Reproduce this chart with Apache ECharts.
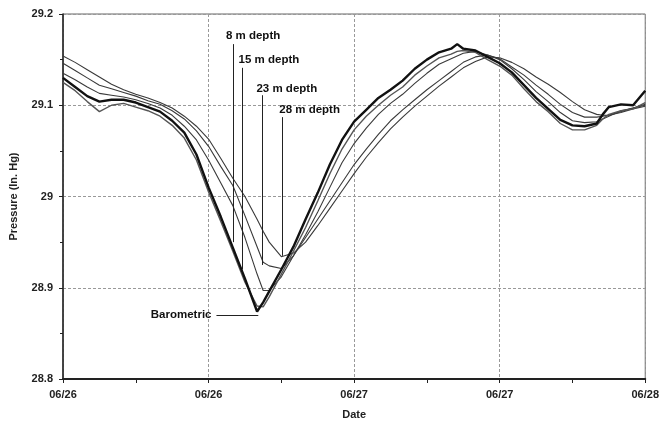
<!DOCTYPE html>
<html>
<head>
<meta charset="utf-8">
<script src="https://cdn.jsdelivr.net/npm/echarts@6/dist/echarts.min.js"></script>
<style>
html,body{margin:0;padding:0;background:#fff;}
#c{width:662px;height:425px;}
</style>
</head>
<body>
<div id="c"></div>
<script>
// hours since 06/26 00:00
var hours = [0,1,2,3,4,5,6,7,8,9,10,11,12,13,14,15,16,16.5,17,18,19,20,21,22,23,24,25,26,27,28,29,30,31,32,32.5,33,34,35,36,37,38,39,40,41,42,43,44,44.5,45,46,47,48];

var barometric = [29.130,29.120,29.110,29.104,29.106,29.106,29.103,29.098,29.093,29.083,29.070,29.046,29.010,28.978,28.944,28.910,28.874,28.884,28.896,28.920,28.945,28.975,29.004,29.035,29.062,29.082,29.095,29.108,29.117,29.127,29.140,29.150,29.158,29.162,29.167,29.162,29.160,29.153,29.146,29.136,29.122,29.108,29.096,29.084,29.078,29.077,29.080,29.090,29.098,29.101,29.100,29.116];

var depth8 = [29.125,29.116,29.104,29.093,29.100,29.102,29.098,29.094,29.088,29.078,29.064,29.040,29.005,28.973,28.940,28.906,28.880,28.879,28.890,28.915,28.940,28.966,28.995,29.025,29.052,29.073,29.088,29.100,29.111,29.120,29.133,29.143,29.152,29.156,29.159,29.160,29.158,29.150,29.143,29.133,29.118,29.104,29.093,29.080,29.073,29.073,29.078,29.085,29.090,29.094,29.096,29.103];

var depth15 = [29.135,29.128,29.120,29.113,29.111,29.109,29.106,29.102,29.097,29.089,29.077,29.062,29.040,29.015,28.990,28.955,28.915,28.897,28.897,28.912,28.935,28.958,28.983,29.010,29.037,29.058,29.075,29.090,29.102,29.112,29.124,29.135,29.145,29.151,29.154,29.157,29.159,29.155,29.150,29.140,29.128,29.115,29.104,29.092,29.083,29.081,29.082,29.085,29.088,29.094,29.097,29.101];

var depth23 = [29.146,29.138,29.130,29.122,29.118,29.114,29.110,29.105,29.101,29.094,29.085,29.072,29.055,29.033,29.012,28.979,28.945,28.928,28.924,28.921,28.935,28.955,28.975,28.995,29.015,29.035,29.052,29.068,29.083,29.095,29.106,29.117,29.127,29.137,29.142,29.147,29.153,29.155,29.151,29.142,29.133,29.122,29.112,29.101,29.092,29.087,29.087,29.088,29.089,29.093,29.097,29.100];

var depth28 = [29.154,29.147,29.139,29.131,29.123,29.117,29.112,29.108,29.103,29.097,29.088,29.077,29.063,29.042,29.020,29.000,28.975,28.962,28.950,28.934,28.938,28.950,28.968,28.987,29.006,29.025,29.043,29.059,29.074,29.087,29.099,29.110,29.121,29.131,29.136,29.141,29.148,29.153,29.152,29.147,29.140,29.131,29.123,29.114,29.104,29.095,29.090,29.089,29.089,29.092,29.096,29.099];

var xTickLabels = ['06/26','06/26','06/27','06/27','06/28'];
var yTicks = [28.8, 28.9, 29.0, 29.1, 29.2];
var seriesNames = ['Barometric','8 m depth','15 m depth','23 m depth','28 m depth'];

function pairs(vals){ return hours.map(function(h,i){ return [h, vals[i]]; }); }

var FONT = '"Liberation Sans", Arial, sans-serif';
var thin = {color:'#3a3a3a', width:1.1};

function vLeader(h, v1, v2){ return [{coord:[h, v1]}, {coord:[h, v2]}]; }

var chart = echarts.init(document.getElementById('c'), null, {renderer:'canvas'});
chart.setOption({
  animation:false,
  backgroundColor:'#fff',
  grid:{left:60, right:14, top:14, bottom:41, show:true, borderColor:'#666', borderWidth:1},
  xAxis:{
    type:'value', min:0, max:48, interval:12,
    name:'Date', nameLocation:'middle', nameGap:30,
    nameTextStyle:{fontFamily:FONT, fontWeight:'bold', fontSize:11, color:'#222'},
    axisLine:{show:true, lineStyle:{color:'#222', width:2}},
    axisTick:{show:true, length:4, lineStyle:{color:'#222', width:1}},
    minorTick:{show:true, splitNumber:2, length:4, lineStyle:{color:'#222', width:1}},
    axisLabel:{fontFamily:FONT, fontWeight:'bold', fontSize:11, color:'#222', margin:10,
      formatter:function(v){ return xTickLabels[Math.round(v/12)]; }},
    splitLine:{show:true, lineStyle:{color:'#999', type:[3,2], width:1}}
  },
  yAxis:{
    type:'value', min:28.8, max:29.2, interval:0.1,
    name:'Pressure (In. Hg)', nameLocation:'middle', nameGap:44, nameRotate:90,
    nameTextStyle:{fontFamily:FONT, fontWeight:'bold', fontSize:11, color:'#222'},
    axisLine:{show:true, lineStyle:{color:'#222', width:1.5}},
    axisTick:{show:true, length:4, lineStyle:{color:'#222'}},
    minorTick:{show:true, splitNumber:2, length:3, lineStyle:{color:'#222'}},
    axisLabel:{fontFamily:FONT, fontWeight:'bold', fontSize:11, color:'#222', margin:10,
      formatter:function(v){ var i = yTicks.indexOf(Math.round(v*10)/10); return i<0 ? '' : String(yTicks[i]); }},
    splitLine:{show:true, lineStyle:{color:'#999', type:[3,2], width:1}}
  },
  series:[
    {name:seriesNames[4], type:'line', data:pairs(depth28), showSymbol:false, lineStyle:thin, z:2},
    {name:seriesNames[3], type:'line', data:pairs(depth23), showSymbol:false, lineStyle:thin, z:2},
    {name:seriesNames[2], type:'line', data:pairs(depth15), showSymbol:false, lineStyle:thin, z:2},
    {name:seriesNames[1], type:'line', data:pairs(depth8), showSymbol:false, lineStyle:{color:'#555', width:1.4}, z:2},
    {name:seriesNames[0], type:'line', data:pairs(barometric), showSymbol:false,
      lineStyle:{color:'#111', width:2.4}, z:3,
      markLine:{
        silent:true, symbol:['none','none'], label:{show:false},
        lineStyle:{color:'#222', width:1, type:'solid'},
        data:[
          vLeader(14.05, 29.167, 28.950),
          vLeader(14.8, 29.141, 28.920),
          vLeader(16.45, 29.111, 28.925),
          vLeader(18.1, 29.087, 28.935),
          [{coord:[12.65, 28.870]}, {coord:[16.1, 28.870]}]
        ]
      },
      markPoint:{
        silent:true, symbol:'rect', symbolSize:1, itemStyle:{color:'rgba(0,0,0,0)'},
        label:{show:true, position:'inside', fontFamily:FONT, fontWeight:'bold', fontSize:11.5, color:'#111'},
        data:[
          {coord:[15.67, 29.176], value:seriesNames[1], label:{formatter:seriesNames[1]}},
          {coord:[16.98, 29.150], value:seriesNames[2], label:{formatter:seriesNames[2]}},
          {coord:[18.45, 29.118], value:seriesNames[3], label:{formatter:seriesNames[3]}},
          {coord:[20.33, 29.095], value:seriesNames[4], label:{formatter:seriesNames[4]}},
          {coord:[12.45, 28.870], value:seriesNames[0], label:{formatter:seriesNames[0], position:'left', distance:2}}
        ]
      }
    }
  ]
});
</script>
</body>
</html>
